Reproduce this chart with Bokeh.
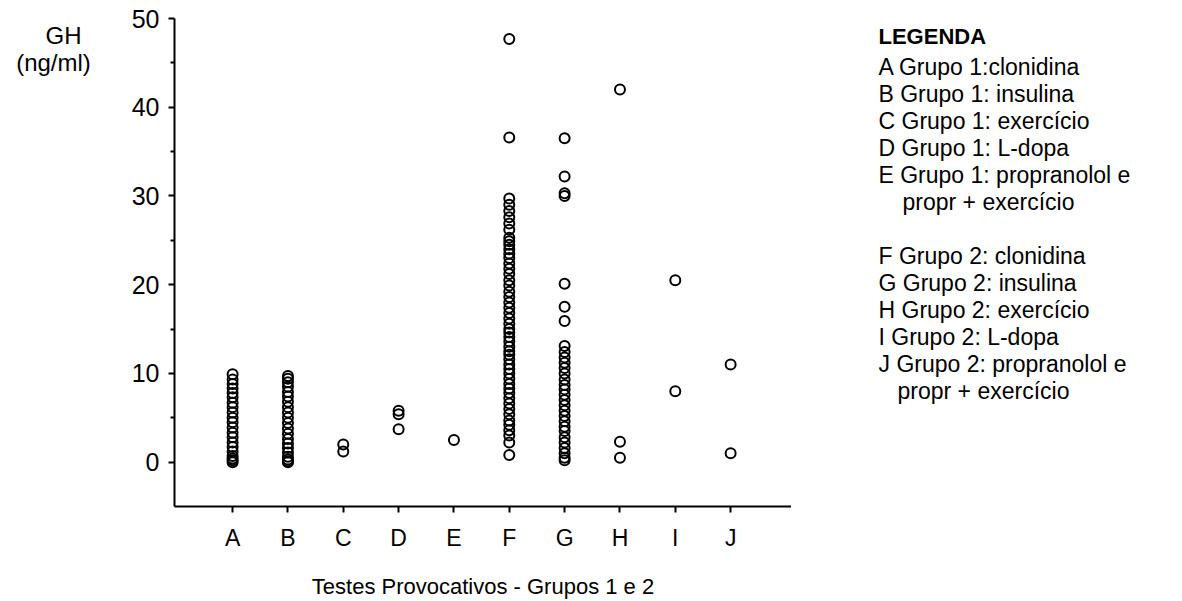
from bokeh.plotting import figure
from bokeh.models import Range1d, FixedTicker
from bokeh.layouts import row
from bokeh.core.properties import value
from bokeh.embed import file_html
from bokeh.resources import INLINE

categories = ["A", "B", "C", "D", "E", "F", "G", "H", "I", "J"]
A = [9.9, 9.3, 8.8, 8.3, 7.8, 7.3, 6.7, 6.2, 5.6, 5.0, 4.5, 3.9, 3.3, 2.8, 2.2, 1.7, 1.2, 0.7, 0.4, 0.2, 0.0]
B = [9.7, 9.4, 9.0, 8.5, 7.9, 7.4, 6.8, 6.2, 5.6, 5.0, 4.4, 3.8, 3.2, 2.6, 2.1, 1.6, 1.1, 0.6, 0.3, 0.1, 0.0]
C = [2.0, 1.2]
D = [5.8, 5.4, 3.7]
E = [2.5]
F = [47.7, 36.6, 29.7, 29.0, 28.3, 27.6, 26.9, 26.2, 25.3, 24.9, 24.5, 24.0, 23.5, 23.0,
     22.4, 21.8, 21.2, 20.5, 19.9, 19.2, 18.6, 18.0, 17.4, 16.8, 16.2, 15.6, 15.0, 14.6,
     14.1, 13.6, 13.0, 12.5, 12.1, 11.6, 11.0, 10.5, 10.0, 9.4, 8.8, 8.3, 7.8, 7.2, 6.6,
     6.0, 5.4, 4.7, 4.2, 3.6, 3.0, 2.2, 0.8]
G = [36.5, 32.2, 30.3, 30.0, 20.1, 17.5, 15.9, 13.1, 12.4, 11.8, 11.2, 10.6, 10.0, 9.3,
     8.7, 8.2, 7.6, 7.0, 6.4, 5.8, 5.2, 4.6, 4.0, 3.5, 2.8, 2.2, 1.6, 1.0, 0.5, 0.2]
H = [42.0, 2.3, 0.5]
I = [20.5, 8.0]
J = [11.0, 1.0]
series = [A, B, C, D, E, F, G, H, I, J]

y_title = ["GH", "(ng/ml)"]
legend_title = "LEGENDA"
legend_lines = [
    "A Grupo 1:clonidina",
    "B Grupo 1: insulina",
    "C Grupo 1: exercício",
    "D Grupo 1: L-dopa",
    "E Grupo 1: propranolol e",
    "propr + exercício",
    "",
    "F Grupo 2: clonidina",
    "G Grupo 2: insulina",
    "H Grupo 2: exercício",
    "I  Grupo 2: L-dopa",
    "J Grupo 2: propranolol e",
    "propr + exercício",
]
legend_indent = [0, 0, 0, 0, 0, 24, 0, 0, 0, 0, 0, 0, 19]

FONT = "Liberation Sans"
H_PX = 601
TOP, BOTTOM = 18, 95
LEFT_W, RIGHT_W = 120, 391
MAIN_W = 1182 - LEFT_W - RIGHT_W


def panel(w):
    # text panel whose data coordinates equal canvas pixels (frame aligned with main plot)
    f = figure(width=w, height=H_PX, output_backend="svg", toolbar_location=None,
               x_range=Range1d(0, w), y_range=Range1d(H_PX - BOTTOM, TOP),
               min_border_left=0, min_border_right=0,
               min_border_top=TOP, min_border_bottom=BOTTOM)
    f.axis.visible = False
    f.grid.visible = False
    f.outline_line_color = None
    f.background_fill_color = "white"
    f.border_fill_color = "white"
    return f


left = panel(LEFT_W)
left.text(x=[63, 53], y=[35, 62], text=y_title, text_font=value(FONT), text_font_size="24px",
          text_align="center", text_baseline="middle", text_color="black")

p = figure(width=MAIN_W, height=H_PX, output_backend="svg", toolbar_location=None,
           x_range=Range1d(-0.05, 11.1), y_range=Range1d(-5, 50),
           min_border_left=174 - LEFT_W, min_border_right=0,
           min_border_top=TOP, min_border_bottom=BOTTOM)
p.outline_line_color = None
p.xgrid.visible = False
p.ygrid.visible = False
p.background_fill_color = "white"
p.border_fill_color = "white"

xs, ys = [], []
for i, vals in enumerate(series):
    for v in vals:
        xs.append(i + 1)
        ys.append(v)
p.scatter(xs, ys, marker="circle", size=10, fill_color=None, line_color="black", line_width=2)

xax = p.xaxis[0]
yax = p.yaxis[0]
xax.ticker = FixedTicker(ticks=list(range(1, 11)))
xax.major_label_overrides = {i + 1: c for i, c in enumerate(categories)}
xax.minor_tick_line_color = None
xax.axis_label = "Testes Provocativos - Grupos 1 e 2"
yax.ticker = FixedTicker(ticks=[0, 10, 20, 30, 40, 50], minor_ticks=[5, 15, 25, 35, 45])
for ax in (xax, yax):
    ax.axis_line_width = 2
    ax.axis_line_color = "black"
    ax.major_tick_line_width = 2
    ax.major_tick_line_color = "black"
    ax.major_tick_out = 6
    ax.major_tick_in = 0
    ax.minor_tick_line_width = 2
    ax.minor_tick_out = 4
    ax.minor_tick_in = 0
    ax.major_label_text_font = FONT
    ax.major_label_text_color = "black"
    ax.axis_label_text_font = FONT
    ax.axis_label_text_font_size = "22px"
    ax.axis_label_text_font_style = "normal"
    ax.axis_label_text_color = "black"
yax.major_label_text_font_size = "25px"
xax.major_label_text_font_size = "23px"
xax.major_label_standoff = 12
xax.axis_label_standoff = 20
yax.major_label_standoff = 9

right = panel(RIGHT_W)
LX = 878 - (LEFT_W + MAIN_W)
right.text(x=[LX], y=[36], text=[legend_title], text_font=value(FONT), text_font_size="22px",
           text_font_style="bold", text_align="left", text_baseline="middle", text_color="black")
lines = [t for t in legend_lines if t]
lx = [LX + d for t, d in zip(legend_lines, legend_indent) if t]
ly = [66 + k * 27 for k, t in enumerate(legend_lines) if t]
right.text(x=lx, y=ly, text=lines, text_font=value(FONT), text_font_size="23px",
           text_align="left", text_baseline="middle", text_color="black")

layout = row(left, p, right, spacing=0)
open("out.html", "w").write(file_html(layout, INLINE))
